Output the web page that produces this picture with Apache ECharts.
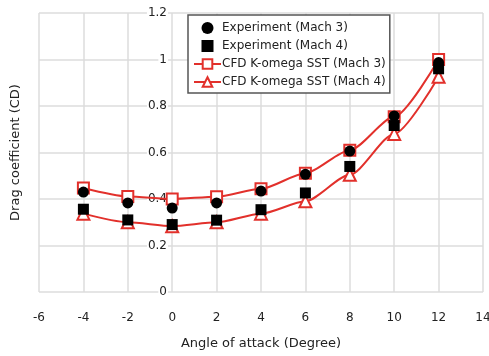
<!DOCTYPE html>
<html>
<head>
<meta charset="utf-8">
<script src="https://cdn.jsdelivr.net/npm/echarts@6/dist/echarts.min.js"></script>
<style>
  html, body { margin: 0; padding: 0; background: #fff; }
  #chart { width: 489px; height: 356px; }
</style>
</head>
<body>
<div id="chart"></div>
<script>
// angle of attack (deg)
const angles = [-4, -2, 0, 2, 4, 6, 8, 10, 12];
// drag coefficient values
const expMach3 = [0.43, 0.383, 0.361, 0.383, 0.434, 0.506, 0.606, 0.757, 0.987];
const expMach4 = [0.356, 0.31, 0.29, 0.309, 0.354, 0.426, 0.54, 0.716, 0.96];
const cfdMach3 = [0.447, 0.411, 0.40, 0.41, 0.444, 0.511, 0.61, 0.754, 1.0];
const cfdMach4 = [0.337, 0.30, 0.283, 0.30, 0.337, 0.39, 0.504, 0.68, 0.926];

const red = '#e2302b';
const font = 'DejaVu Sans';

const pairs = arr => angles.map((a, i) => [a, arr[i]]);

const chart = echarts.init(document.getElementById('chart'));

const option = {
  animation: false,
  textStyle: { fontFamily: font },
  grid: { left: 39, right: 6, top: 13, bottom: 64, containLabel: false, outerBoundsMode: 'none' },
  legend: {
    data: [
      { name: 'Experiment (Mach 3)', icon: 'circle' },
      { name: 'Experiment (Mach 4)', icon: 'path://M0,0H10V10H0Z' },
      'CFD K-omega SST (Mach 3)',
      'CFD K-omega SST (Mach 4)'
    ],
    orient: 'vertical',
    left: 188,
    top: 15,
    itemWidth: 27,
    itemHeight: 12,
    itemGap: 6,
    padding: [7, 4, 5, 5],
    borderColor: '#555',
    borderWidth: 1.5,
    backgroundColor: '#fff',
    textStyle: { fontFamily: font, fontSize: 12, color: '#222', padding: [0, 0, 0, -4] }
  },
  xAxis: {
    type: 'value',
    min: -6,
    max: 14,
    interval: 2,
    name: 'Angle of attack (Degree)',
    nameLocation: 'middle',
    nameGap: 45,
    nameTextStyle: { fontSize: 13, color: '#222' },
    axisLine: { show: false },
    axisTick: { show: false },
    axisLabel: { fontSize: 12, color: '#222', margin: 20 },
    splitLine: { show: true, lineStyle: { color: '#dcdcdc', width: 1.5 } }
  },
  yAxis: {
    type: 'value',
    min: 0,
    max: 1.2,
    interval: 0.2,
    // axis sits on x = 0 (the plot's left edge is x = -6)
    offset: -133,
    name: 'Drag coefficient (CD)',
    nameLocation: 'middle',
    nameGap: 150,
    nameTextStyle: { fontSize: 13, color: '#222' },
    axisLine: { show: false },
    axisTick: { show: false },
    axisLabel: {
      fontSize: 12, color: '#222', margin: 4,
      backgroundColor: '#fff', padding: [1, 1, 1, 1],
      formatter: v => String(Math.round(v * 10) / 10)
    },
    splitLine: { show: true, lineStyle: { color: '#dcdcdc', width: 1.5 } }
  },
  series: [
    {
      name: 'CFD K-omega SST (Mach 3)',
      type: 'line',
      smooth: 0.25,
      smoothMonotone: 'x',
      data: pairs(cfdMach3),
      symbol: 'rect',
      symbolSize: 11,
      lineStyle: { color: red, width: 2 },
      itemStyle: { color: '#fff', borderColor: red, borderWidth: 2 },
      z: 2
    },
    {
      name: 'CFD K-omega SST (Mach 4)',
      type: 'line',
      smooth: 0.25,
      smoothMonotone: 'x',
      data: pairs(cfdMach4),
      symbol: 'triangle',
      symbolSize: 12,
      lineStyle: { color: red, width: 2 },
      itemStyle: { color: '#fff', borderColor: red, borderWidth: 2 },
      z: 2
    },
    {
      name: 'Experiment (Mach 3)',
      type: 'scatter',
      data: pairs(expMach3),
      symbol: 'circle',
      symbolSize: 11,
      itemStyle: { color: '#000', opacity: 1 },
      z: 3
    },
    {
      name: 'Experiment (Mach 4)',
      type: 'scatter',
      data: pairs(expMach4),
      symbol: 'rect',
      symbolSize: 11,
      itemStyle: { color: '#000', opacity: 1 },
      z: 3
    }
  ]
};

chart.setOption(option);
</script>
</body>
</html>
